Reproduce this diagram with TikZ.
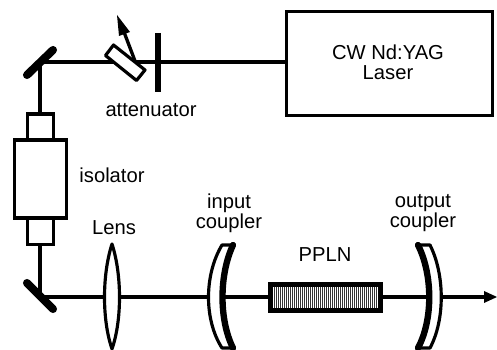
\documentclass[tikz,border=0pt]{standalone}
\usepackage{fontspec}
\setmainfont{Liberation Sans}
\tikzset{
  x=0.02cm,y=-0.02cm,
  beam/.style={line width=1.9pt,black},
  boxed/.style={draw,line width=1.9pt,fill=white,inner sep=0pt},
  mirror/.style={line width=4.6pt,line cap=round,black},
  lbl/.style={font=\fontsize{11.5}{11.4}\selectfont,align=center,inner sep=0pt},
  optic/.style={line width=1.8pt,fill=white,line join=round},
  coat/.style={line width=3.6pt,line cap=round},
}
\begin{document}
\begin{tikzpicture}
\useasboundingbox (0,0) rectangle (497,350);
\coordinate (mtop) at (40,62);
\coordinate (mbot) at (40,297);
\coordinate (out) at (490,297);
\node[boxed,minimum width=206*0.02cm,minimum height=104*0.02cm] (laser) at (389.5,63.5) {};
\node[lbl] (lasertext) at (388,62.5) {CW Nd:YAG\\Laser};
\draw[beam] (mtop) -- (laser.west |- mtop);
\draw[beam] (mtop) -- (mbot);
\draw[beam] (mbot) -- (out);
\draw[mirror] (27,75) -- (53,50);
\draw[mirror] (27,283) -- (53,309);
% attenuator
\draw[optic] (113.5,45) -- (145,70) -- (136.5,80.5) -- (105.5,55.5) -- cycle;
\draw[line width=1.9pt] (135,61) -- (124,32);
\fill (117,15) -- (130,32) -- (119,36) -- cycle;
\draw[line width=3.4pt] (158,33) -- (158,92);
\node[lbl] (attlabel) at (151,110.5) {attenuator};
% isolator
\node[boxed,minimum width=26*0.02cm,minimum height=26*0.02cm] (iso1) at (40.5,127) {};
\node[boxed,minimum width=26*0.02cm,minimum height=27*0.02cm] (iso2) at (40.5,231) {};
\node[boxed,minimum width=52*0.02cm,minimum height=78*0.02cm] (iso) at (40.5,179) {};
\node[lbl] (isolabel) at (112,175) {isolator};
% lens
\draw[optic] (112,244) .. controls (102,275) and (102,320) .. (112,349) .. controls (122,320) and (122,275) .. (112,244) -- cycle;
\node[lbl] (lenslabel) at (114,228) {Lens};
% input coupler
\draw[optic] (222,245) .. controls (204,275) and (204,320) .. (222,348) -- (233,348) .. controls (219,320) and (219,275) .. (233,245) -- cycle;
\draw[coat] (233,245) .. controls (219,275) and (219,320) .. (233,348);
\node[lbl] (inlabel) at (229,213) {input\\coupler};
% crystal
\node[draw,line width=2.4pt,minimum width=110*0.02cm,minimum height=26*0.02cm,inner sep=0pt,fill=white,
  path picture={\foreach \i in {0,...,55}{\draw[line width=.55pt,black!80] ([xshift=\i*0.04cm]path picture bounding box.south west) -- ([xshift=\i*0.04cm]path picture bounding box.north west);}}] (ppln) at (325.5,297.5) {};
\node[lbl] (pplnlabel) at (325,255) {PPLN};
% output coupler
\draw[optic] (418,245) .. controls (433,275) and (433,320) .. (418,348) -- (430,348) .. controls (445,320) and (445,275) .. (430,245) -- cycle;
\draw[coat] (418,245) .. controls (433,275) and (433,320) .. (418,348);
\node[lbl] (outlabel) at (423,213) {output\\coupler};
\fill (484,291) -- (497,297) -- (484,303) -- cycle;
\end{tikzpicture}
\end{document}
